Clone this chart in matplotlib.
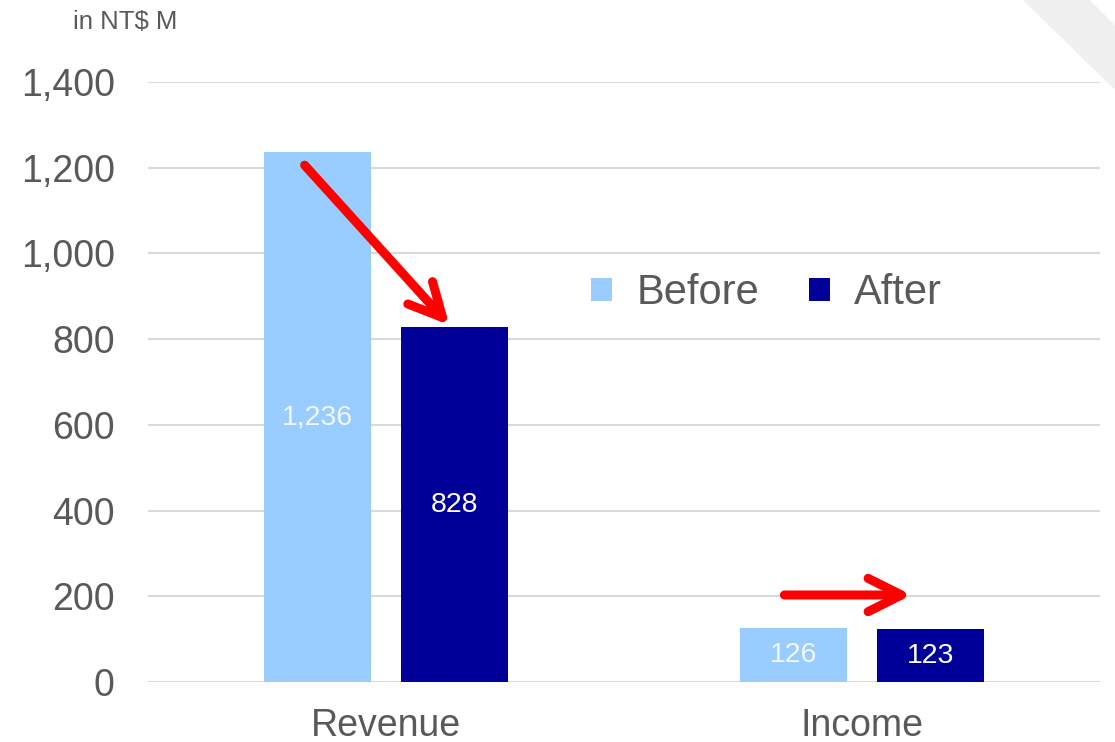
import numpy as np
import matplotlib
matplotlib.use("Agg")
import matplotlib.pyplot as plt
from matplotlib.patches import Polygon

categories = ["Revenue", "Income"]
series = ["Before", "After"]
before = [1236, 126]
after = [828, 123]
yticks = [0, 200, 400, 600, 800, 1000, 1200, 1400]

plt.rcParams["font.family"] = ["Liberation Sans", "DejaVu Sans"]

C_BEFORE = "#99CCFF"
C_AFTER = "#000099"
GRID = "#D9D9D9"
TXT = "#595959"

fig = plt.figure(figsize=(11.15, 7.42), dpi=100)
ax = fig.add_axes([148 / 1115, 1 - 682 / 742, (1100 - 148) / 1115, 600 / 742])

x = np.arange(len(categories))
w = 0.225
off = 0.143
b1 = ax.bar(x - off, before, w, color=C_BEFORE, label=series[0], zorder=2)
b2 = ax.bar(x + off, after, w, color=C_AFTER, label=series[1], zorder=2)

for rect, v in zip(b1, before):
    ax.text(rect.get_x() + rect.get_width() / 2, v / 2, f"{v:,}",
            ha="center", va="center", fontsize=20.5, color="#F2F8FF", zorder=3)
for rect, v in zip(b2, after):
    ax.text(rect.get_x() + rect.get_width() / 2, v / 2, f"{v:,}",
            ha="center", va="center", fontsize=20.5, color="white", zorder=3)

ax.set_xlim(-0.5, 1.5)
ax.set_ylim(0, 1400)
ax.set_yticks(yticks)
ax.set_yticklabels([f"{t:,}" for t in yticks])
ax.set_xticks(x)
ax.set_xticklabels(categories)
ax.tick_params(axis="y", length=0, pad=24, labelsize=27, labelcolor=TXT)
ax.tick_params(axis="x", length=0, pad=19, labelsize=27, labelcolor=TXT)
ax.grid(axis="y", color=GRID, linewidth=1.5, zorder=0)
for s in ax.spines.values():
    s.set_visible(False)

# trend arrows
arrow = dict(arrowstyle="->,head_length=1.2,head_width=0.6", color="red",
             lw=6.5, capstyle="round", joinstyle="round", shrinkA=0, shrinkB=0,
             mutation_scale=20)
ax.annotate("", xy=(0.133, 833), xytext=(-0.171, 1206), arrowprops=arrow, zorder=4)
ax.annotate("", xy=(1.104, 203), xytext=(0.837, 203), arrowprops=arrow, zorder=4)

ax.legend(loc="center", bbox_to_anchor=(0.65, 0.648), ncol=2, frameon=False,
          fontsize=30, handlelength=0.5, handleheight=0.5, columnspacing=1.2,
          labelcolor=TXT, handletextpad=0.58)

fig.text(73 / 1115, 1 - 22 / 742, "in NT$ M", fontsize=18.5, color=TXT, va="center")

# grey page-corner band at the top right
band = Polygon([(1023, 742), (1090, 742), (1115, 717), (1115, 652)],
               closed=True, transform=None, facecolor="#F0F0F0", edgecolor="none")
fig.patches.append(band)

fig.savefig("out.png", dpi=100)
